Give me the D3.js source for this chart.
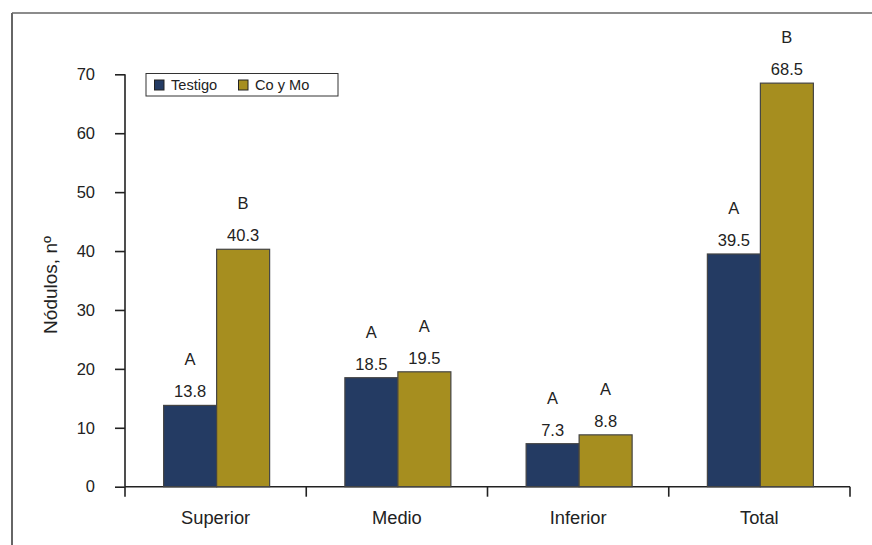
<!DOCTYPE html>
<html><head><meta charset="utf-8">
<script src="https://cdn.jsdelivr.net/npm/d3@7"></script>
<style>body{margin:0;background:#fff;} text{font-family:"Liberation Sans",Arial,sans-serif;fill:#222;}</style>
</head><body>
<svg id="c" width="872" height="545"></svg>
<script>
const categories = ["Superior", "Medio", "Inferior", "Total"];
const seriesNames = ["Testigo", "Co y Mo"];
const testigo = [13.8, 18.5, 7.3, 39.5];
const coYMo = [40.3, 19.5, 8.8, 68.5];
const lettersTestigo = ["A", "A", "A", "A"];
const lettersCoYMo = ["B", "A", "A", "B"];
const yTicks = [0, 10, 20, 30, 40, 50, 60, 70];
const colors = ["#243b63", "#a68e1f"];

const svg = d3.select("#c");
// outer frame (top and left only visible)
svg.append("line").attr("x1",12).attr("x2",872).attr("y1",13).attr("y2",13).attr("stroke","#666").attr("stroke-width",1.5);
svg.append("line").attr("x1",12).attr("x2",12).attr("y1",13).attr("y2",545).attr("stroke","#666").attr("stroke-width",2);

const x0 = 125, x1 = 850, yb = 486.7, yt = 74.3;
const x = d3.scaleBand().domain(categories).range([x0, x1]).paddingInner(0).paddingOuter(0);
const y = d3.scaleLinear().domain([0, 70]).range([yb, yt]);
const bw = 53;

// y axis
const ya = svg.append("g").attr("transform", `translate(${x0},0)`)
  .call(d3.axisLeft(y).tickValues(yTicks).tickSize(10).tickPadding(20).tickFormat(d3.format("d")));
ya.select(".domain").attr("stroke","#222").attr("stroke-width",1.6).attr("d", `M0,${yb}V${yt}`);
ya.selectAll(".tick line").attr("stroke","#222").attr("stroke-width",1.6);
ya.selectAll(".tick text").attr("font-size",16.5).attr("fill","#222").attr("font-family","Liberation Sans, Arial, sans-serif");

// x axis
const xa = svg.append("g").attr("transform", `translate(0,${yb})`)
  .call(d3.axisBottom(x).tickSize(0).tickPadding(0));
xa.select(".domain").attr("stroke","#222").attr("stroke-width",1.6).attr("d", `M${x0},0H${x1}`);
xa.selectAll(".tick line").remove();
xa.selectAll(".tick text").attr("font-size",18.3).attr("fill","#222").attr("dy",0).attr("y",37.5)
  .attr("font-family","Liberation Sans, Arial, sans-serif");
const bounds = categories.map(c => x(c)).concat([x1]);
svg.append("g").selectAll("line").data(bounds).join("line")
  .attr("x1", d => d).attr("x2", d => d).attr("y1", yb).attr("y2", yb + 10)
  .attr("stroke","#222").attr("stroke-width",1.6);

// y label
svg.append("text").attr("transform", "translate(56.5,285) rotate(-90)").attr("text-anchor","middle")
  .attr("font-size",19).text("Nódulos, nº");

// bars
const series = [testigo, coYMo];
const letters = [lettersTestigo, lettersCoYMo];
series.forEach((vals, si) => {
  const g = svg.append("g");
  categories.forEach((c, i) => {
    const cx = x(c) + x.bandwidth() / 2 + 1;
    const bx = cx - bw + si * bw;
    g.append("rect").attr("x", bx).attr("y", y(vals[i])).attr("width", bw).attr("height", yb - y(vals[i]))
      .attr("fill", colors[si]).attr("stroke", "#444").attr("stroke-width", 1.2);
    g.append("text").attr("x", bx + bw / 2).attr("y", y(vals[i]) - 8).attr("text-anchor","middle")
      .attr("font-size",16.5).text(vals[i].toFixed(1));
    g.append("text").attr("x", bx + bw / 2).attr("y", y(vals[i]) - 40).attr("text-anchor","middle")
      .attr("font-size",16.5).text(letters[si][i]);
  });
});

// legend
const lg = svg.append("g");
lg.append("rect").attr("x",146).attr("y",73.5).attr("width",192).attr("height",22.5)
  .attr("fill","#fff").attr("stroke","#333").attr("stroke-width",1);
const lx = [154.5, 238.5];
seriesNames.forEach((s, i) => {
  lg.append("rect").attr("x", lx[i]).attr("y", 80).attr("width", 9.5).attr("height", 10)
    .attr("fill", colors[i]).attr("stroke","#222").attr("stroke-width",1);
  lg.append("text").attr("x", lx[i] + 16.5).attr("y", 90).attr("font-size",14.6).text(s);
});
</script>
</body></html>
